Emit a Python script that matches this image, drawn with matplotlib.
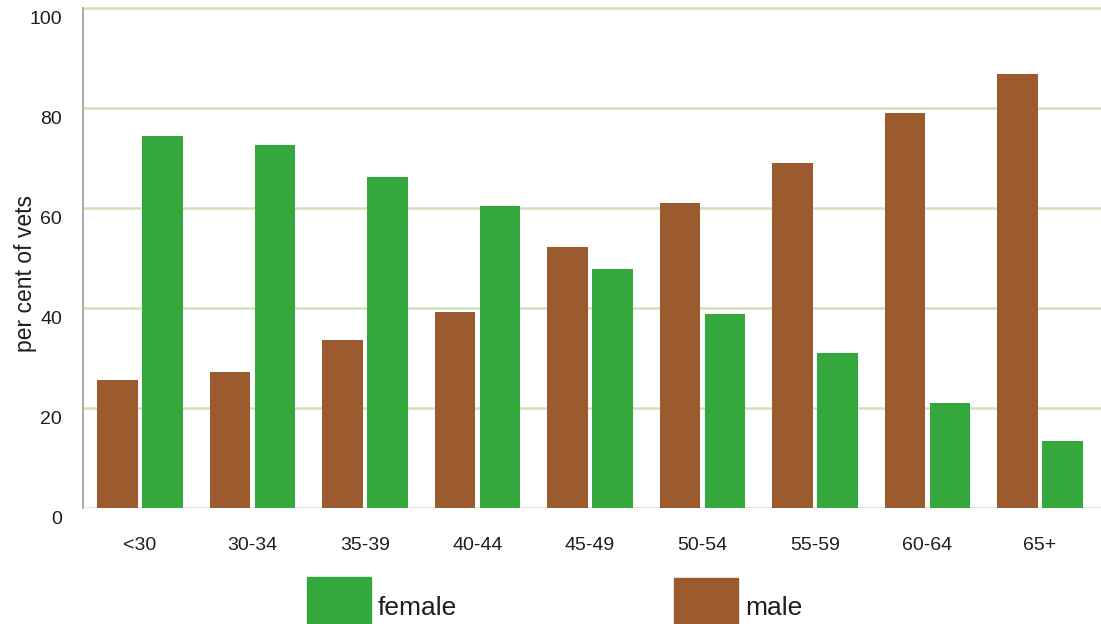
import numpy as np
import matplotlib
matplotlib.use('Agg')
import matplotlib.pyplot as plt
from matplotlib.patches import Rectangle
from matplotlib.transforms import ScaledTranslation

plt.rcParams['font.family'] = ['Liberation Sans', 'DejaVu Sans']

# per cent of vets by age group
ages = ['<30', '30-34', '35-39', '40-44', '45-49', '50-54', '55-59', '60-64', '65+']
male = [25.6, 27.2, 33.6, 39.3, 52.2, 61.0, 69.0, 79.0, 86.8]
female = [74.4, 72.6, 66.2, 60.5, 47.8, 38.8, 31.0, 21.0, 13.4]

GREEN = '#34a83c'
BROWN = '#9c5b2e'
GRID = '#cfe4b8'
TXT = '#1e1e1e'

W, H = 1101, 624
STEP = 112.5  # px between groups
fig = plt.figure(figsize=(W / 100, H / 100), dpi=100)
ax = fig.add_axes([83 / W, 116 / H, 1 - 83 / W, 505 / H])

x = np.arange(len(ages))
bw = 0.364
ax.bar(x - 0.2, male, bw, color=BROWN, zorder=3)
ax.bar(x + 0.2, female, bw, color=GREEN, zorder=3)

ax.set_ylim(0, 101)
ax.set_xlim(-(140 - 83) / STEP, (W - 140) / STEP)
ax.set_yticks([0, 20, 40, 60, 80, 100])
for y in [20, 40, 60, 80, 100]:
  ax.axhline(y, color=GRID, lw=1.8, zorder=1)
ax.axhline(0, color='#dfe8d8', lw=1.5, zorder=2)

for s in ['top', 'right', 'bottom']:
  ax.spines[s].set_visible(False)
ax.spines['left'].set_color('#9a9aa0')
ax.spines['left'].set_linewidth(1.2)
ax.spines['left'].set_bounds(0, 100)

ax.set_xticks(x)
ax.set_xticklabels(ages, fontsize=14, color=TXT)
ax.tick_params(axis='both', length=0)
ax.tick_params(axis='x', pad=21)
ax.tick_params(axis='y', pad=15, labelsize=14, labelcolor=TXT)
for lab in ax.get_yticklabels():
  lab.set_transform(lab.get_transform() + ScaledTranslation(0, -0.1, fig.dpi_scale_trans))

fig.text(26 / W, 1 - 274 / H, 'per cent of vets', rotation=90, fontsize=16.5,
         ha='center', va='center', color=TXT)

# legend
fig.add_artist(Rectangle((307 / W, 0), 64 / W, (H - 577) / H, color=GREEN,
                         transform=fig.transFigure))
fig.text(378 / W, 1 - 608 / H, 'female', fontsize=19, va='center', color=TXT)
fig.add_artist(Rectangle((674 / W, 0), 64 / W, (H - 578) / H, color=BROWN,
                         transform=fig.transFigure))
fig.text(745 / W, 1 - 608 / H, 'male', fontsize=19, va='center', color=TXT)

fig.savefig('out.png', dpi=100)
